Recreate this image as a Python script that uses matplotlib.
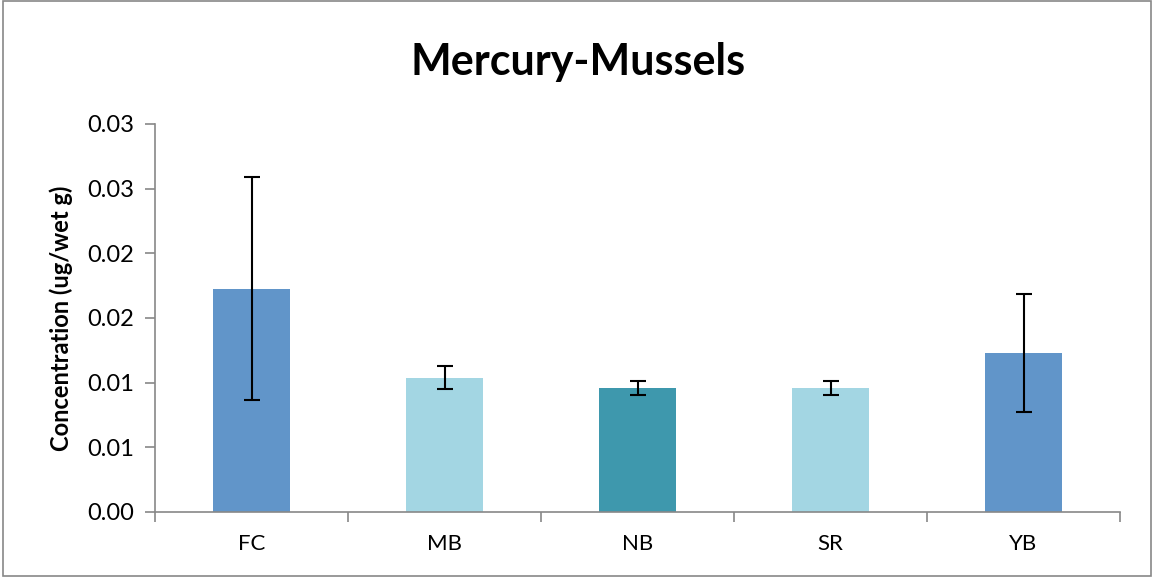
import matplotlib.pyplot as plt
import numpy as np
from matplotlib.ticker import FuncFormatter

sites = ['FC', 'MB', 'NB', 'SR', 'YB']
conc = [0.01726, 0.01037, 0.0096, 0.0096, 0.01228]
err = [0.00863, 0.00089, 0.00055, 0.00055, 0.00458]
colors = ['#6195C9', '#A3D6E3', '#3E98AD', '#A3D6E3', '#6195C9']

plt.rcParams['font.family'] = ['Lato', 'DejaVu Sans']

fig = plt.figure(figsize=(11.54, 5.77), dpi=100)
ax = fig.add_axes([155/1154, 1 - 512/577, 965/1154, 388/577])

x = np.arange(len(sites))
ax.bar(x, conc, width=0.4, color=colors, zorder=2)
ax.errorbar(x, conc, yerr=err, fmt='none', ecolor='black', elinewidth=1.5,
            capsize=6, capthick=1.5, zorder=3)

ax.set_xlim(-0.5, len(sites) - 0.5)
ax.set_ylim(0, 0.03)
ax.set_yticks(np.arange(0, 0.0301, 0.005))
# excel style rounding (half up) of the tick labels
ax.yaxis.set_major_formatter(FuncFormatter(lambda v, p: '%.2f' % (v + 1e-9)))
ax.set_xticks(x)
ax.set_xticklabels(sites)
ax.set_xticks(np.arange(-0.5, len(sites), 1), minor=True)
ax.tick_params(axis='x', which='major', length=0, pad=16, labelsize=16)
ax.tick_params(axis='x', which='minor', length=7, color='#888888', width=1.2)
ax.tick_params(axis='y', length=7, color='#888888', width=1.2, labelsize=17, pad=8)

for s in ['top', 'right']:
    ax.spines[s].set_visible(False)
for s in ['left', 'bottom']:
    ax.spines[s].set_color('#888888')
    ax.spines[s].set_linewidth(1.2)

ax.set_ylabel('Concentration (ug/wet g)', fontsize=17, fontweight='bold', labelpad=10)
fig.text(578/1154, 1 - 62/577, 'Mercury-Mussels', ha='center', va='center',
         fontsize=31, fontweight='bold')

fig.patches.append(plt.Rectangle((0.003, 0.002), 0.994, 0.996, transform=fig.transFigure,
                                 fill=False, edgecolor='#888888', linewidth=1.2))

fig.savefig('out.png', dpi=100)
